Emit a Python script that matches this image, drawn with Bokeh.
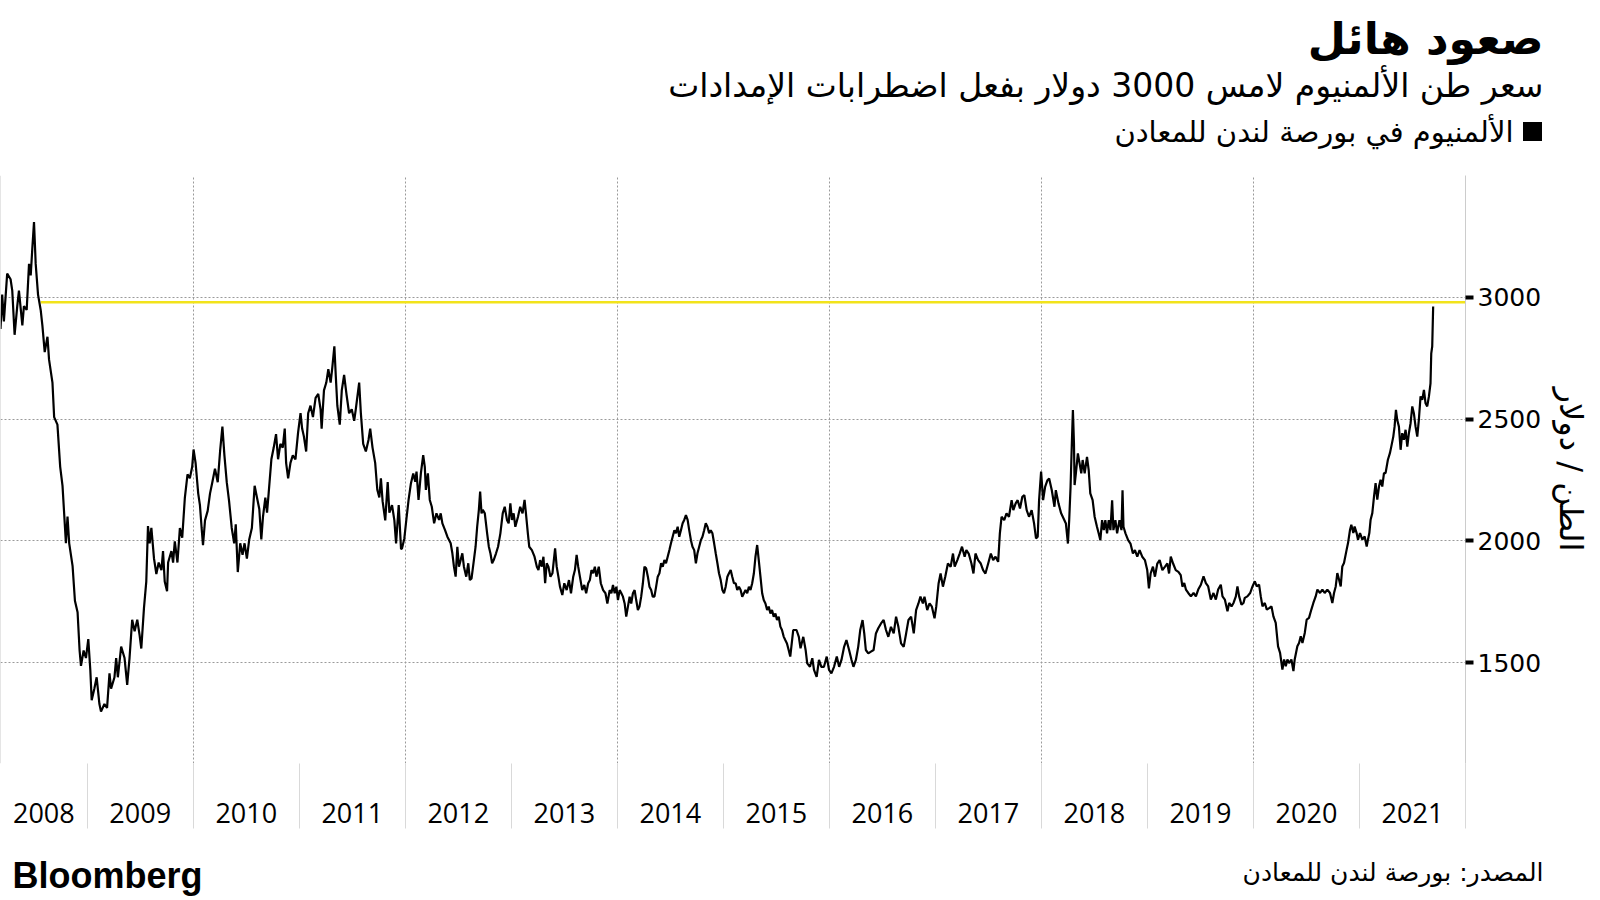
from bokeh.plotting import figure
from bokeh.layouts import column
from bokeh.models import Range1d, FixedTicker, Span, CustomJSTickFormatter
from bokeh.core.properties import value
from bokeh.embed import file_html
from bokeh.resources import INLINE

# ---- data (year as decimal, LME aluminium USD/t) ----
prices_2008_2011 = [
    (2008.182, 2870), (2008.198, 3011), (2008.214, 2901), (2008.245, 3097), (2008.277, 3074),
    (2008.293, 3027), (2008.315, 2846), (2008.340, 2964), (2008.356, 3027), (2008.388, 2885),
    (2008.403, 2964), (2008.429, 2948), (2008.451, 3137), (2008.467, 3090), (2008.482, 3200),
    (2008.498, 3309), (2008.514, 3137), (2008.536, 3011), (2008.561, 2948), (2008.577, 2885),
    (2008.599, 2775), (2008.625, 2838), (2008.640, 2744), (2008.672, 2650), (2008.688, 2508),
    (2008.719, 2477), (2008.745, 2304), (2008.767, 2226), (2008.799, 1990), (2008.814, 2100),
    (2008.830, 1990), (2008.862, 1896), (2008.884, 1754), (2008.909, 1707), (2008.928, 1550),
    (2008.941, 1487), (2008.966, 1550), (2008.988, 1519), (2009.010, 1597), (2009.029, 1471),
    (2009.042, 1346), (2009.067, 1393), (2009.089, 1440), (2009.115, 1330), (2009.130, 1299),
    (2009.162, 1330), (2009.187, 1314), (2009.210, 1456), (2009.225, 1393), (2009.257, 1440),
    (2009.273, 1519), (2009.289, 1440), (2009.320, 1566), (2009.352, 1519), (2009.377, 1409),
    (2009.399, 1519), (2009.424, 1676), (2009.447, 1629), (2009.472, 1676), (2009.494, 1613),
    (2009.510, 1558), (2009.535, 1723), (2009.557, 1833), (2009.573, 2061), (2009.589, 1990),
    (2009.605, 2053), (2009.630, 1927), (2009.652, 1864), (2009.674, 1911), (2009.700, 1880),
    (2009.715, 1958), (2009.731, 1833), (2009.753, 1793), (2009.763, 1911), (2009.794, 1958),
    (2009.810, 1911), (2009.826, 1998), (2009.851, 1911), (2009.874, 2053), (2009.896, 2013),
    (2009.921, 2178), (2009.946, 2273), (2009.968, 2257), (2009.990, 2304), (2010.003, 2375),
    (2010.022, 2320), (2010.047, 2194), (2010.063, 2147), (2010.079, 2053), (2010.092, 1982),
    (2010.111, 2084), (2010.136, 2123), (2010.158, 2194), (2010.180, 2241), (2010.205, 2296),
    (2010.231, 2241), (2010.253, 2367), (2010.275, 2469), (2010.294, 2351), (2010.316, 2241),
    (2010.338, 2163), (2010.363, 2053), (2010.386, 1990), (2010.401, 2068), (2010.420, 1872),
    (2010.443, 1990), (2010.465, 1943), (2010.484, 1990), (2010.506, 1927), (2010.528, 2006),
    (2010.553, 2053), (2010.579, 2226), (2010.601, 2178), (2010.623, 2131), (2010.642, 2006),
    (2010.658, 2100), (2010.680, 2178), (2010.696, 2116), (2010.711, 2194), (2010.737, 2335),
    (2010.759, 2383), (2010.781, 2438), (2010.800, 2335), (2010.822, 2398), (2010.844, 2383),
    (2010.863, 2461), (2010.876, 2320), (2010.895, 2257), (2010.917, 2320), (2010.939, 2351),
    (2010.964, 2335), (2010.989, 2445), (2011.012, 2524), (2011.027, 2461), (2011.043, 2430),
    (2011.065, 2367), (2011.084, 2524), (2011.106, 2555), (2011.129, 2508), (2011.154, 2587),
    (2011.179, 2603), (2011.201, 2540), (2011.211, 2461), (2011.233, 2618), (2011.255, 2650),
    (2011.274, 2705), (2011.296, 2650), (2011.312, 2713), (2011.331, 2799), (2011.344, 2681),
    (2011.359, 2555), (2011.382, 2477), (2011.401, 2618), (2011.423, 2681), (2011.445, 2603),
    (2011.470, 2524), (2011.495, 2540), (2011.518, 2493), (2011.533, 2540), (2011.565, 2650),
    (2011.581, 2524), (2011.603, 2398), (2011.628, 2367), (2011.653, 2414), (2011.669, 2461),
    (2011.691, 2383), (2011.716, 2320), (2011.736, 2210), (2011.755, 2178), (2011.770, 2257),
    (2011.786, 2163), (2011.811, 2084), (2011.834, 2241), (2011.850, 2116), (2011.875, 2147),
    (2011.897, 2084), (2011.913, 1990), (2011.938, 2147), (2011.960, 1966),
]

prices_2012_2015 = [
    (2011.969, 1969), (2011.991, 2010), (2012.013, 2099), (2012.031, 2168), (2012.053, 2236),
    (2012.075, 2277), (2012.094, 2243), (2012.106, 2284), (2012.125, 2168), (2012.147, 2277),
    (2012.169, 2352), (2012.184, 2304), (2012.194, 2209), (2012.213, 2277), (2012.231, 2168),
    (2012.250, 2140), (2012.272, 2072), (2012.294, 2113), (2012.319, 2086), (2012.334, 2113),
    (2012.350, 2072), (2012.375, 2044), (2012.397, 2017), (2012.428, 1990), (2012.444, 1949),
    (2012.459, 1894), (2012.475, 1853), (2012.491, 1976), (2012.506, 1894), (2012.522, 1921),
    (2012.538, 1949), (2012.553, 1894), (2012.575, 1853), (2012.594, 1908), (2012.609, 1839),
    (2012.625, 1846), (2012.647, 1921), (2012.663, 1976), (2012.678, 2058), (2012.694, 2127),
    (2012.706, 2202), (2012.719, 2113), (2012.731, 2127), (2012.750, 2113), (2012.772, 2031),
    (2012.788, 1976), (2012.803, 1949), (2012.819, 1908), (2012.834, 1921), (2012.856, 1949),
    (2012.875, 1976), (2012.897, 2031), (2012.919, 2113), (2012.938, 2140), (2012.959, 2086),
    (2012.975, 2072), (2012.991, 2154), (2013.006, 2086), (2013.022, 2113), (2013.038, 2058),
    (2013.063, 2099), (2013.084, 2140), (2013.106, 2113), (2013.125, 2168), (2013.138, 2113),
    (2013.156, 2031), (2013.169, 1976), (2013.194, 1962), (2013.219, 1935), (2013.241, 1894),
    (2013.256, 1880), (2013.272, 1921), (2013.288, 1894), (2013.303, 1935), (2013.319, 1826),
    (2013.334, 1908), (2013.350, 1894), (2013.369, 1853), (2013.388, 1867), (2013.413, 1969),
    (2013.428, 1894), (2013.444, 1853), (2013.459, 1812), (2013.481, 1778), (2013.500, 1826),
    (2013.522, 1798), (2013.544, 1839), (2013.563, 1785), (2013.584, 1853), (2013.600, 1880),
    (2013.616, 1942), (2013.631, 1894), (2013.647, 1853), (2013.669, 1798), (2013.688, 1819),
    (2013.706, 1785), (2013.725, 1826), (2013.741, 1839), (2013.756, 1880), (2013.772, 1867),
    (2013.788, 1894), (2013.803, 1853), (2013.825, 1894), (2013.844, 1826), (2013.866, 1798),
    (2013.888, 1785), (2013.906, 1743), (2013.928, 1798), (2013.944, 1785), (2013.959, 1819),
    (2013.975, 1785), (2013.991, 1812), (2014.006, 1757), (2014.022, 1798), (2014.038, 1785),
    (2014.053, 1771), (2014.069, 1743), (2014.084, 1689), (2014.100, 1730), (2014.116, 1771),
    (2014.131, 1743), (2014.147, 1785), (2014.163, 1798), (2014.178, 1757), (2014.194, 1716),
    (2014.209, 1730), (2014.225, 1771), (2014.241, 1826), (2014.256, 1894), (2014.272, 1887),
    (2014.288, 1853), (2014.303, 1812), (2014.319, 1798), (2014.334, 1771), (2014.350, 1771),
    (2014.366, 1812), (2014.381, 1853), (2014.397, 1867), (2014.413, 1908), (2014.428, 1894),
    (2014.444, 1921), (2014.459, 1908), (2014.475, 1935), (2014.491, 1962), (2014.506, 1990),
    (2014.522, 2017), (2014.538, 2044), (2014.553, 2031), (2014.569, 2058), (2014.584, 2017),
    (2014.600, 2044), (2014.616, 2072), (2014.631, 2086), (2014.647, 2106), (2014.663, 2086),
    (2014.678, 2044), (2014.694, 2003), (2014.709, 1976), (2014.725, 1962), (2014.741, 1908),
    (2014.756, 1949), (2014.772, 1976), (2014.788, 2003), (2014.803, 2017), (2014.819, 2044),
    (2014.834, 2072), (2014.850, 2058), (2014.866, 2031), (2014.881, 2044), (2014.897, 2031),
    (2014.913, 1990), (2014.928, 1949), (2014.944, 1908), (2014.959, 1867), (2014.975, 1839),
    (2014.991, 1798), (2015.006, 1785), (2015.022, 1812), (2015.038, 1853), (2015.053, 1867),
    (2015.069, 1880), (2015.084, 1853), (2015.100, 1826), (2015.116, 1826), (2015.131, 1798),
    (2015.147, 1812), (2015.163, 1798), (2015.178, 1771), (2015.194, 1785), (2015.209, 1798),
    (2015.225, 1785), (2015.241, 1812), (2015.256, 1798), (2015.272, 1826), (2015.288, 1867),
    (2015.303, 1935), (2015.319, 1983), (2015.334, 1921), (2015.350, 1853), (2015.366, 1785),
    (2015.381, 1757), (2015.397, 1743), (2015.413, 1716), (2015.428, 1730), (2015.444, 1702),
    (2015.459, 1716), (2015.475, 1689), (2015.491, 1702), (2015.506, 1675), (2015.522, 1689),
    (2015.538, 1648), (2015.553, 1634), (2015.569, 1607), (2015.584, 1593), (2015.600, 1579),
    (2015.616, 1552), (2015.631, 1525),
]

prices_2016_2019 = [
    (2015.659, 1634), (2015.690, 1634), (2015.712, 1606), (2015.728, 1559), (2015.754, 1606),
    (2015.776, 1552), (2015.791, 1497), (2015.817, 1483), (2015.839, 1518), (2015.855, 1470),
    (2015.880, 1442), (2015.902, 1511), (2015.924, 1483), (2015.949, 1483), (2015.975, 1525),
    (2015.997, 1470), (2016.019, 1456), (2016.044, 1483), (2016.070, 1525), (2016.092, 1483),
    (2016.114, 1511), (2016.139, 1565), (2016.161, 1593), (2016.186, 1552), (2016.209, 1511),
    (2016.227, 1483), (2016.250, 1511), (2016.272, 1565), (2016.291, 1634), (2016.313, 1675),
    (2016.329, 1620), (2016.344, 1552), (2016.367, 1538), (2016.392, 1545), (2016.417, 1552),
    (2016.439, 1620), (2016.461, 1641), (2016.487, 1661), (2016.512, 1675), (2016.534, 1634),
    (2016.556, 1606), (2016.581, 1647), (2016.607, 1620), (2016.629, 1689), (2016.651, 1647),
    (2016.676, 1579), (2016.701, 1565), (2016.724, 1620), (2016.746, 1675), (2016.771, 1689),
    (2016.796, 1620), (2016.818, 1716), (2016.840, 1743), (2016.859, 1771), (2016.882, 1743),
    (2016.897, 1771), (2016.923, 1716), (2016.945, 1743), (2016.967, 1730), (2016.992, 1682),
    (2017.008, 1730), (2017.030, 1825), (2017.049, 1866), (2017.071, 1812), (2017.093, 1853),
    (2017.118, 1907), (2017.144, 1894), (2017.166, 1948), (2017.182, 1894), (2017.207, 1921),
    (2017.229, 1948), (2017.251, 1976), (2017.276, 1935), (2017.292, 1962), (2017.314, 1948),
    (2017.340, 1907), (2017.359, 1866), (2017.378, 1948), (2017.403, 1921), (2017.428, 1907),
    (2017.450, 1880), (2017.472, 1866), (2017.498, 1907), (2017.523, 1948), (2017.545, 1921),
    (2017.567, 1935), (2017.592, 1914), (2017.608, 2031), (2017.624, 2099), (2017.649, 2085),
    (2017.671, 2113), (2017.694, 2099), (2017.719, 2167), (2017.735, 2126), (2017.757, 2154),
    (2017.776, 2167), (2017.798, 2133), (2017.820, 2181), (2017.839, 2188), (2017.861, 2126),
    (2017.883, 2099), (2017.908, 2126), (2017.931, 2071), (2017.949, 2010), (2017.965, 2017),
    (2017.978, 2167), (2017.997, 2284), (2018.016, 2167), (2018.035, 2222), (2018.057, 2249),
    (2018.073, 2256), (2018.098, 2208), (2018.123, 2140), (2018.136, 2208), (2018.161, 2154),
    (2018.186, 2113), (2018.209, 2092), (2018.231, 2071), (2018.250, 1989), (2018.262, 2085),
    (2018.275, 2222), (2018.288, 2414), (2018.297, 2537), (2018.307, 2400), (2018.313, 2229),
    (2018.325, 2277), (2018.344, 2359), (2018.360, 2318), (2018.376, 2277), (2018.389, 2332),
    (2018.408, 2277), (2018.430, 2345), (2018.446, 2290), (2018.461, 2195), (2018.483, 2167),
    (2018.502, 2099), (2018.524, 2058), (2018.540, 2031), (2018.556, 2003), (2018.572, 2085),
    (2018.588, 2044), (2018.603, 2085), (2018.619, 2031), (2018.635, 2085), (2018.651, 2044),
    (2018.667, 2167), (2018.679, 2044), (2018.698, 2085), (2018.714, 2031), (2018.736, 2085),
    (2018.755, 2044), (2018.765, 2208), (2018.774, 2058), (2018.793, 2031), (2018.818, 2003),
    (2018.840, 1989), (2018.863, 1948), (2018.882, 1962), (2018.904, 1935), (2018.926, 1962),
    (2018.951, 1935), (2018.976, 1921), (2018.998, 1880), (2019.014, 1805), (2019.030, 1866),
    (2019.052, 1894), (2019.071, 1853), (2019.093, 1907), (2019.115, 1921), (2019.141, 1880),
    (2019.166, 1894), (2019.188, 1907), (2019.204, 1866), (2019.220, 1935), (2019.242, 1907),
    (2019.267, 1880), (2019.292, 1873), (2019.314, 1859), (2019.330, 1812),
]

prices_2019_2021 = [
    (2019.347, 1827), (2019.363, 1800), (2019.385, 1786), (2019.410, 1772), (2019.435, 1786),
    (2019.457, 1772), (2019.479, 1800), (2019.504, 1820), (2019.529, 1854), (2019.551, 1827),
    (2019.573, 1813), (2019.598, 1759), (2019.623, 1786), (2019.645, 1759), (2019.667, 1800),
    (2019.692, 1820), (2019.708, 1772), (2019.730, 1759), (2019.755, 1711), (2019.771, 1745),
    (2019.793, 1731), (2019.812, 1745), (2019.834, 1772), (2019.849, 1813), (2019.865, 1772),
    (2019.887, 1738), (2019.906, 1745), (2019.918, 1766), (2019.943, 1772), (2019.969, 1786),
    (2019.991, 1813), (2020.013, 1834), (2020.031, 1813), (2020.053, 1820), (2020.069, 1772),
    (2020.085, 1731), (2020.107, 1745), (2020.126, 1718), (2020.148, 1724), (2020.170, 1731),
    (2020.188, 1690), (2020.210, 1663), (2020.232, 1567), (2020.251, 1540), (2020.273, 1472),
    (2020.289, 1513), (2020.305, 1485), (2020.320, 1513), (2020.336, 1498), (2020.358, 1513),
    (2020.377, 1465), (2020.389, 1513), (2020.414, 1567), (2020.430, 1581), (2020.446, 1608),
    (2020.462, 1581), (2020.484, 1622), (2020.502, 1677), (2020.524, 1684), (2020.546, 1718),
    (2020.565, 1745), (2020.587, 1772), (2020.603, 1800), (2020.628, 1786), (2020.650, 1800),
    (2020.672, 1786), (2020.697, 1800), (2020.722, 1786), (2020.744, 1745), (2020.760, 1786),
    (2020.776, 1813), (2020.791, 1868), (2020.807, 1841), (2020.823, 1813), (2020.838, 1895),
    (2020.854, 1909), (2020.879, 1964), (2020.892, 1991), (2020.911, 2046), (2020.923, 2066),
    (2020.942, 2032), (2020.954, 2059), (2020.973, 2032), (2020.986, 2005), (2021.005, 2032),
    (2021.027, 2005), (2021.049, 2018), (2021.068, 1977), (2021.080, 2005), (2021.093, 2032),
    (2021.105, 2087), (2021.121, 2114), (2021.137, 2182), (2021.152, 2237), (2021.168, 2169),
    (2021.184, 2223), (2021.199, 2251), (2021.215, 2223), (2021.231, 2278), (2021.246, 2278),
    (2021.268, 2333), (2021.287, 2360), (2021.300, 2387), (2021.319, 2428), (2021.331, 2469),
    (2021.344, 2538), (2021.356, 2497), (2021.372, 2469), (2021.388, 2374), (2021.403, 2442),
    (2021.419, 2415), (2021.435, 2456), (2021.451, 2387), (2021.466, 2442), (2021.482, 2483),
    (2021.498, 2552), (2021.513, 2524), (2021.529, 2469), (2021.545, 2428), (2021.560, 2497),
    (2021.576, 2593), (2021.592, 2579), (2021.608, 2620), (2021.623, 2565), (2021.639, 2552),
    (2021.655, 2593), (2021.670, 2647), (2021.677, 2770), (2021.686, 2798), (2021.695, 2962),
]

level_price = 2980          # yellow reference line
level_start = 2008.56
x_start, x_end = 2008.182, 2022.0
y_start, y_end = 1086, 3500
year_labels = list(range(2008, 2022))
year_bounds = list(range(2009, 2023))
grid_years = [2010, 2012, 2014, 2016, 2018, 2020]
price_ticks = [1500, 2000, 2500, 3000]
price_grid = [1500, 2000, 2500, 3000, 3500]

title = "صعود هائل"
subtitle = "سعر طن الألمنيوم لامس 3000 دولار بفعل اضطرابات الإمدادات"
legend_text = "الألمنيوم في بورصة لندن للمعادن"
y_label = "الطن / دولار"
source = "المصدر: بورصة لندن للمعادن"
brand = "Bloomberg"

series = prices_2008_2011 + prices_2012_2015 + prices_2016_2019 + prices_2019_2021
year_t = [a for a, b in series]
price = [b for a, b in series]

W = 1600
HEAD_H, MAIN_H, FOOT_H = 170, 670, 60
ARABIC = "DejaVu Sans"


def blank_panel(height, top):
    # a frame-only figure whose ranges are page pixels (y grows downward)
    f = figure(width=W, height=height, output_backend="svg", toolbar_location=None,
               x_range=Range1d(0, W), y_range=Range1d(top + height, top),
               min_border=0, x_axis_type=None, y_axis_type=None)
    f.outline_line_color = None
    f.grid.visible = False
    f.background_fill_color = "white"
    f.border_fill_color = "white"
    f.frame_align = False
    return f


# ---------------- header ----------------
head = blank_panel(HEAD_H, 0)
head.text(x=[1543], y=[38], text=[title], text_align="right", text_baseline="middle",
          text_font=value(ARABIC), text_font_size="44px", text_font_style="bold", text_color="#000000")
head.text(x=[1543], y=[85], text=[subtitle], text_align="right", text_baseline="middle",
          text_font=value(ARABIC), text_font_size="33px", text_color="#000000")
head.scatter(x=[1532], y=[131], marker="square", size=19, fill_color="#000000", line_color=None)
head.text(x=[1513], y=[131], text=[legend_text], text_align="right", text_baseline="middle",
          text_font=value(ARABIC), text_font_size="29px", text_color="#000000")

# ---------------- main chart ----------------
p = figure(width=W, height=MAIN_H, output_backend="svg", toolbar_location=None,
           x_range=Range1d(x_start, x_end), y_range=Range1d(y_start, y_end),
           y_axis_location="right",
           min_border_left=0, min_border_right=135, min_border_top=5,
           min_border_bottom=77)
p.frame_align = False
p.outline_line_color = None
p.background_fill_color = "white"
p.border_fill_color = "white"

mids = [(max(y, x_start) + min(y + 1, x_end)) / 2 for y in year_labels]
xa = p.xaxis[0]
xa.ticker = FixedTicker(ticks=mids, minor_ticks=year_bounds)
xa.formatter = CustomJSTickFormatter(code="return Math.floor(tick).toString()")
xa.axis_line_color = None
xa.major_tick_line_color = None
xa.major_tick_in = 0
xa.major_tick_out = 0
xa.minor_tick_in = 0
xa.minor_tick_out = 65
xa.minor_tick_line_color = "#d9d9d9"
xa.major_label_text_font = "Open Sans"
xa.major_label_text_font_size = "27px"
xa.major_label_text_color = "#000000"
xa.major_label_standoff = -26

ya = p.yaxis[0]
ya.ticker = FixedTicker(ticks=price_ticks)
ya.axis_line_color = "#cccccc"
ya.major_tick_in = 0
ya.major_tick_out = 8
ya.major_tick_line_width = 4
ya.major_tick_line_color = "#000000"
ya.minor_tick_line_color = None
ya.major_label_text_font = "DejaVu Sans"
ya.major_label_text_font_size = "25px"
ya.major_label_text_color = "#000000"
ya.major_label_standoff = 4
ya.axis_label = y_label
ya.axis_label_text_font = ARABIC
ya.axis_label_text_font_size = "32px"
ya.axis_label_text_font_style = "normal"
ya.axis_label_text_color = "#000000"
ya.axis_label_standoff = 8

p.xgrid.ticker = FixedTicker(ticks=grid_years)
p.ygrid.ticker = FixedTicker(ticks=price_grid)
for g in (p.xgrid, p.ygrid):
    g.grid_line_color = "#9a9a9a"
    g.grid_line_dash = "2 2"
    g.grid_line_width = 1

p.add_layout(Span(location=x_start, dimension="height", line_color="#cccccc", line_width=1))

p.line([level_start, x_end], [level_price, level_price], line_color="#f2e31b", line_width=2.5)
p.line(year_t, price, line_color="#000000", line_width=2.2)

# ---------------- footer ----------------
foot = blank_panel(FOOT_H, HEAD_H + MAIN_H)
foot.text(x=[12], y=[875], text=[brand], text_align="left", text_baseline="middle",
          text_font=value("Liberation Sans"), text_font_size="36px", text_font_style="bold",
          text_color="#000000")
foot.text(x=[1543], y=[872], text=[source], text_align="right", text_baseline="middle",
          text_font=value(ARABIC), text_font_size="25px", text_color="#000000")

layout = column(head, p, foot, spacing=0)
open("out.html", "w").write(file_html(layout, INLINE))
